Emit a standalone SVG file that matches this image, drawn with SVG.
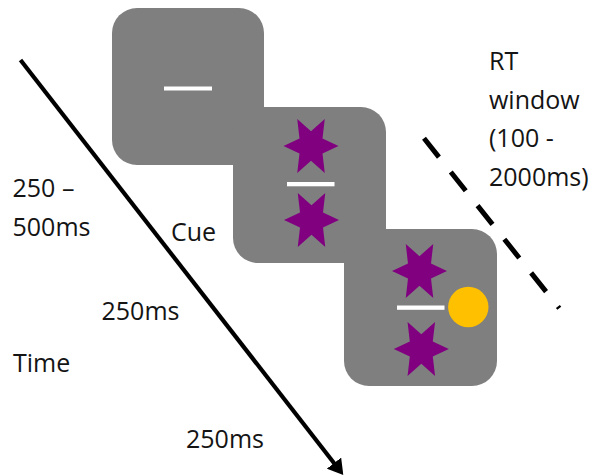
<svg xmlns="http://www.w3.org/2000/svg" width="592" height="476" viewBox="0 0 592 476">
  <style>
    .frame { fill: #7f7f7f; }
    .fix { fill: #ffffff; }
    .star { fill: #800080; }
    .lbl { font-family: "Open Sans", "Liberation Sans", sans-serif; font-size: 25px; fill: #141414; }
  </style>
  <defs>
    <path id="star" d="M27.5,0 L11.5,-7.4 L13.75,-27 L0,-14.8 L-13.75,-27 L-11.5,-7.4 L-27.5,0 L-11.5,7.4 L-13.75,27 L0,14.8 L13.75,27 L11.5,7.4 Z"/>
    <marker id="head" viewBox="0 0 15 18" refX="2" refY="9" markerWidth="15" markerHeight="18" markerUnits="userSpaceOnUse" orient="auto">
      <path d="M0,0 L15,9 L0,18 Z" fill="#000"/>
    </marker>
  </defs>

  <g id="frame1">
    <rect class="frame" x="112" y="8" width="152" height="157" rx="25"/>
    <rect class="fix" x="164" y="86.5" width="48" height="4"/>
  </g>
  <g id="frame2">
    <rect class="frame" x="233" y="107" width="153" height="156" rx="25"/>
    <use href="#star" class="star" x="311" y="146"/>
    <rect class="fix" x="287" y="182" width="47.5" height="4.3"/>
    <use href="#star" class="star" x="311.5" y="220"/>
  </g>
  <g id="frame3">
    <rect class="frame" x="344" y="229" width="153" height="157" rx="25"/>
    <use href="#star" class="star" x="419.5" y="271"/>
    <rect class="fix" x="397" y="305.5" width="47.5" height="4.3"/>
    <use href="#star" class="star" x="421.3" y="349"/>
    <circle cx="468.3" cy="307" r="20.2" fill="#ffc000"/>
  </g>

  <g id="connectors">
    <line id="time-arrow" x1="20.5" y1="60" x2="335.3" y2="464.7" stroke="#000" stroke-width="4.2" marker-end="url(#head)"/>
    <line id="rt-window" x1="424" y1="138.3" x2="559.3" y2="308.3" stroke="#000" stroke-width="5" stroke-dasharray="24 19"/>
  </g>

  <g id="labels">
    <text class="lbl" x="489" y="70">RT</text>
    <text class="lbl" x="489" y="108.5">window</text>
    <text class="lbl" x="489" y="147">(100 -</text>
    <text class="lbl" x="489" y="185.5">2000ms)</text>
    <text class="lbl" x="12.5" y="197">250 –</text>
    <text class="lbl" x="12.5" y="236">500ms</text>
    <text class="lbl" x="171" y="241">Cue</text>
    <text class="lbl" x="101.5" y="319.5">250ms</text>
    <text class="lbl" x="13" y="371.5">Time</text>
    <text class="lbl" x="186" y="447.5">250ms</text>
  </g>
</svg>
